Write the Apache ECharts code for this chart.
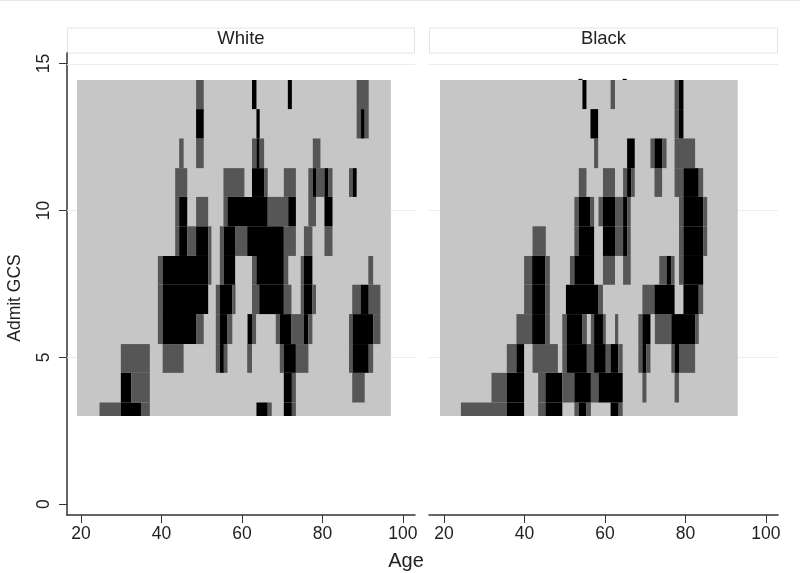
<!DOCTYPE html>
<html>
<head>
<meta charset="utf-8">
<style>
  html, body { margin: 0; padding: 0; background: #fff; }
  #main { width: 800px; height: 573px; }
</style>
<script src="https://cdn.jsdelivr.net/npm/echarts@6/dist/echarts.min.js"></script>
</head>
<body>
<div id="main"></div>
<script>
// ticks and labels
const ageTicks = [20, 40, 60, 80, 100];
const gcsTicks = [0, 5, 10, 15];
const gcsGridLines = [5, 10, 15];
const panelNames = ['White', 'Black'];

// edges of the GCS rows (row 3 starts at index 0)
const gcsEdges = [3, 3.46, 4.47, 5.45, 6.47, 7.47, 8.45, 9.46, 10.46, 11.44, 12.45, 13.45, 14.44, 14.48];

// age range of the light gray block, panel by panel
const whiteRange = [19, 97];
const blackRange = [19, 93];

// each row: [age from, age to, level] with level 1 = dark gray, 2 = black
const white3 = [[24.6,29.9,1],[29.9,34.9,2],[34.9,37.1,1],[63.6,66.4,2],[66.4,67.4,1],[70.4,72.4,2],[72.4,73.4,1]];
const white4 = [[29.9,32.5,2],[32.5,37.1,1],[70.4,72.4,2],[72.4,73.4,1],[87.4,90.5,1]];
const white5 = [[29.9,37.1,1],[40.3,45.5,1],[53.5,54.5,1],[54.5,55.5,2],[55.5,56.4,1],[61.3,62.5,1],[69.4,70.4,1],[70.4,73.4,2],[73.4,76.5,1],[86.6,87.5,1],[87.5,91.5,2],[91.5,92.6,1]];
const white6 = [[39.1,40.3,1],[40.3,48.6,2],[48.6,50.5,1],[53.5,54.5,1],[54.5,56.4,2],[56.4,57.6,1],[61.3,61.5,1],[61.5,62.5,2],[62.5,63.5,1],[68.4,69.4,1],[69.4,72.3,2],[72.3,75.4,1],[75.4,76.5,2],[76.5,77.5,1],[86.6,87.5,1],[87.5,92.6,2],[92.6,94.4,1]];
const white7 = [[39.1,40.3,1],[40.3,51.6,2],[53.5,54.5,1],[54.5,57.6,2],[57.6,58.4,1],[62.5,64.3,1],[64.3,70.4,2],[70.4,72.3,1],[74.6,75.4,1],[75.4,77.5,2],[77.5,78.4,1],[87.4,89.5,1],[89.5,91.5,2],[91.5,94.4,1]];
const white8 = [[39.1,40.3,1],[40.3,51.6,2],[51.6,52.4,1],[54.5,55.5,1],[55.5,58.3,2],[62.5,63.6,1],[63.6,70.4,2],[70.4,71.5,1],[74.6,75.4,1],[75.4,77.5,2],[91.4,92.6,1]];
const white9 = [[43.4,44.4,1],[44.4,46.4,2],[46.4,48.6,1],[48.6,51.6,2],[51.6,52.4,1],[54.5,55.5,1],[55.5,58.4,2],[58.4,61.3,1],[61.3,70.4,2],[70.4,73.4,1],[75.4,77.5,1],[80.5,82.5,1]];
const white10 = [[43.4,44.4,1],[44.4,46.4,2],[48.6,51.6,1],[55.4,56.4,1],[56.4,66.4,2],[66.4,71.5,1],[71.5,73.4,2],[76.5,78.4,1],[80.5,82.5,2]];
const white11 = [[43.4,46.4,1],[55.4,60.6,1],[62.5,65.5,2],[65.5,66.4,1],[70.4,73.4,1],[76.5,77.6,1],[77.6,78.4,2],[78.4,80.5,1],[80.5,81.4,2],[81.4,82.5,1],[86.6,87.5,1],[87.5,88.5,2]];
const white12 = [[44.4,45.5,1],[48.6,50.5,1],[62.5,63.6,1],[63.6,64.4,2],[64.4,65.5,1],[77.6,79.5,1]];
const white13 = [[48.6,50.5,2],[63.6,64.4,2],[88.5,89.5,1],[89.5,90.5,2],[90.5,91.5,1]];
const white14 = [[48.6,50.5,1],[62.5,63.6,2],[71.4,72.4,2],[88.5,91.5,1]];

const black3 = [[24.2,35.6,1],[35.6,39.9,2],[43.4,45.2,1],[45.2,49.4,2],[52.4,53.5,1],[53.5,55.4,2],[55.4,56.5,1],[61.4,63.4,2],[63.4,64.4,1]];
const black4 = [[31.8,35.6,1],[35.6,39.9,2],[43.4,45.2,1],[45.2,49.4,2],[49.4,52.4,1],[52.4,56.5,2],[56.5,58.4,1],[58.4,64.4,2],[69.3,70.3,1],[77.3,78.4,1]];
const black5 = [[35.6,38,1],[38,39.9,2],[42,48.3,1],[49.4,50.5,1],[50.5,55.5,2],[55.5,57.3,1],[57.3,60.2,2],[60.2,61.4,1],[61.4,63.3,2],[63.3,64.4,1],[68.3,69.3,1],[69.3,70.3,2],[70.3,71.3,1],[76.5,77.3,1],[77.3,78.4,2],[78.4,82.4,1]];
const black6 = [[38,41.9,1],[41.9,45.2,2],[45.2,46.3,1],[49.4,50.5,1],[50.5,54.4,2],[54.4,55.5,1],[56.5,57.3,1],[57.3,59.5,2],[59.5,60.2,1],[62.5,63.3,1],[68.3,69.3,1],[69.3,71.3,2],[72.4,76.5,1],[76.5,82.4,2],[82.4,83.3,1]];
const black7 = [[39.9,41.9,1],[41.9,45.2,2],[45.2,46.3,1],[50.3,58.4,2],[58.4,59.5,1],[69.3,72.3,1],[72.3,77.3,2],[79.5,83.3,2],[83.3,84.4,1]];
const black8 = [[39.9,41.9,1],[41.9,45.2,2],[45.2,46.3,1],[51.3,52.4,1],[52.4,57.3,2],[59.5,62.5,1],[64.5,66.4,1],[73.5,75.3,1],[75.3,76.4,2],[76.4,77.3,1],[78.4,79.5,1],[79.5,84.4,2]];
const black9 = [[42,45.3,1],[52.4,53.5,1],[53.5,57.3,2],[59.5,62.5,2],[62.5,64.5,1],[64.5,65.5,2],[65.5,66.4,1],[78.4,79.5,1],[79.5,84.4,2],[84.4,85.4,1]];
const black10 = [[52.4,53.5,1],[53.5,56.4,2],[56.4,57.3,1],[58.4,59.5,1],[59.5,62.5,2],[62.5,64.5,1],[64.5,65.5,2],[65.5,66.4,1],[78.4,79.5,1],[79.5,84.4,2],[84.4,85.4,1]];
const black11 = [[53.5,55.4,1],[59.5,62.5,1],[64.5,65.5,1],[65.5,66.5,2],[66.5,67.4,1],[72.3,74.2,1],[77.3,79.5,1],[79.5,83.3,2],[83.3,84.4,1]];
const black12 = [[57.3,58.3,1],[65.5,67.4,2],[71.3,72.3,1],[72.3,74.2,2],[74.2,75.3,1],[77.3,82.4,1]];
const black13 = [[56.4,58.3,2],[77.3,78.4,1],[78.4,79.5,2]];
const black14 = [[54.4,55.4,2],[61.4,62.5,1],[77.3,78.4,1],[78.4,79.5,2]];
const black15 = [[53.4,54.4,2],[64.4,65.4,2]];

const whiteRows = [white3, white4, white5, white6, white7, white8, white9, white10, white11, white12, white13, white14];
const blackRows = [black3, black4, black5, black6, black7, black8, black9, black10, black11, black12, black13, black14, black15];

const levelColors = ['#c6c6c6', '#565656', '#000000'];
const textColor = '#222';
const axisColor = '#333';
const font = 'Liberation Sans';

// [age from, age to, gcs from, gcs to, level]
function buildCells(rows, range) {
  const cells = [[range[0], range[1], gcsEdges[0], gcsEdges[12], 0]];
  rows.forEach(function (row, i) {
    row.forEach(function (c) {
      cells.push([c[0], c[1], gcsEdges[i], gcsEdges[i + 1], c[2]]);
    });
  });
  return cells;
}

function renderCell(params, api) {
  const p0 = api.coord([api.value(0), api.value(3)]);
  const p1 = api.coord([api.value(1), api.value(2)]);
  return {
    type: 'rect',
    shape: { x: p0[0], y: p0[1], width: p1[0] - p0[0], height: p1[1] - p0[1] },
    style: { fill: levelColors[api.value(4)] }
  };
}

// horizontal grid line across the whole panel
function renderGridLine(params, api) {
  const y = Math.round(api.coord([20, api.value(0)])[1]) + 0.5;
  const sys = params.coordSys;
  return {
    type: 'line',
    shape: { x1: sys.x, y1: y, x2: sys.x + sys.width, y2: y },
    style: { stroke: '#ececec', lineWidth: 1 }
  };
}

function makeXAxis(idx) {
  return {
    type: 'value', gridIndex: idx,
    min: idx === 0 ? 16.52 : 16.27, max: 103,
    splitLine: { show: false },
    axisLine: { show: true, onZero: false, lineStyle: { color: axisColor, width: 1.5 } },
    axisTick: { show: true, length: 8, customValues: ageTicks, lineStyle: { color: axisColor, width: 1 } },
    axisLabel: { customValues: ageTicks, color: textColor, fontSize: 17.5, fontFamily: font, margin: 10 }
  };
}

function makeYAxis(idx) {
  const first = idx === 0;
  return {
    type: 'value', gridIndex: idx, min: -0.37, max: 15.36,
    splitLine: { show: false },
    axisLine: { show: first, onZero: false, lineStyle: { color: axisColor, width: 1.5 } },
    axisTick: { show: first, length: 8, customValues: gcsTicks, lineStyle: { color: axisColor, width: 1 } },
    axisLabel: { show: first, customValues: gcsTicks, rotate: 90, color: textColor, fontSize: 17.5, fontFamily: font, margin: 14 }
  };
}

function makeGridSeries(idx) {
  return {
    type: 'custom', xAxisIndex: idx, yAxisIndex: idx,
    renderItem: renderGridLine,
    encode: { y: 0 },
    data: gcsGridLines.map(function (v) { return [v]; }),
    silent: true, animation: false, clip: false
  };
}

function makeSeries(idx, rows, range) {
  return {
    type: 'custom', xAxisIndex: idx, yAxisIndex: idx,
    renderItem: renderCell,
    data: buildCells(rows, range),
    silent: true, animation: false
  };
}

function stripHeader(x, width, label) {
  return [
    { type: 'rect', shape: { x: x, y: 28, width: width, height: 25 }, style: { fill: '#fff', stroke: '#e4e4e4', lineWidth: 1 } },
    { type: 'text', x: x + width / 2, y: 39, style: { text: label, fill: textColor, font: '18.5px "' + font + '"', textAlign: 'center', textVerticalAlign: 'middle' } }
  ];
}

const chart = echarts.init(document.getElementById('main'), null, { renderer: 'canvas' });
chart.setOption({
  backgroundColor: '#fff',
  animation: false,
  grid: [
    { left: 67, right: 385, top: 53, bottom: 58 },
    { left: 429, right: 22, top: 53, bottom: 58 }
  ],
  xAxis: [makeXAxis(0), makeXAxis(1)],
  yAxis: [makeYAxis(0), makeYAxis(1)],
  series: [
    makeGridSeries(0), makeGridSeries(1),
    makeSeries(0, whiteRows, whiteRange), makeSeries(1, blackRows, blackRange)
  ],
  graphic: stripHeader(67.5, 347, panelNames[0]).concat(stripHeader(429.5, 348, panelNames[1])).concat([
    { type: 'line', shape: { x1: 0, y1: 0.5, x2: 800, y2: 0.5 }, style: { stroke: '#e8e8e8', lineWidth: 1 } },
    { type: 'text', x: 406, y: 561, style: { text: 'Age', fill: textColor, font: '20px "' + font + '"', textAlign: 'center', textVerticalAlign: 'middle' } },
    { type: 'text', x: 15, y: 298, rotation: Math.PI / 2, style: { text: 'Admit GCS', fill: textColor, font: '17.5px "' + font + '"', textAlign: 'center', textVerticalAlign: 'middle' } }
  ])
});
</script>
</body>
</html>
